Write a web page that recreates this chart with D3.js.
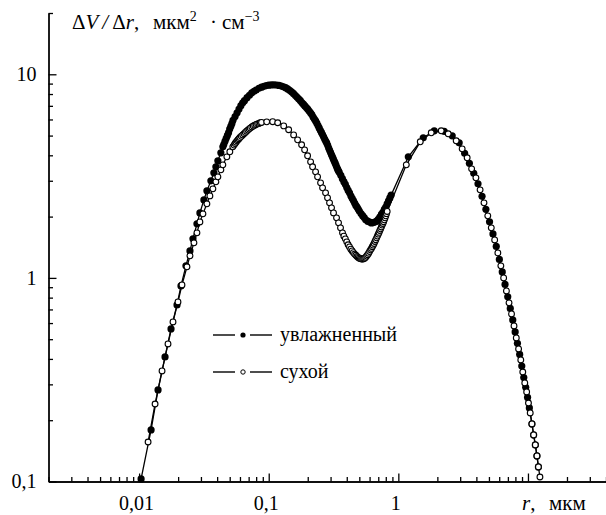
<!DOCTYPE html>
<html>
  <head>
    <meta charset="utf-8">
    <script src="https://cdn.jsdelivr.net/npm/d3@7"></script>
  </head>
  <body style="margin:0">
    <svg width="606" height="515" id="mainsvg"></svg>
    <script>
      // humid aerosol (filled markers): radius, um and dV/dr
      const humidR = [
        0.01036, 0.01237, 0.01400, 0.01585, 0.01763, 0.01961, 0.02104, 0.02298, 0.02468, 0.02603,
        0.02794, 0.02945, 0.03162, 0.03335, 0.03580, 0.03775, 0.03912, 0.04052, 0.04274, 0.04427,
        0.045, 0.046, 0.047, 0.048, 0.049, 0.050, 0.051, 0.052, 0.053, 0.055,
        0.057, 0.059, 0.061, 0.063, 0.065, 0.068, 0.071, 0.074, 0.077, 0.080,
        0.084, 0.088, 0.092, 0.096, 0.100, 0.105, 0.110, 0.115, 0.120, 0.125,
        0.130, 0.135, 0.140, 0.145, 0.150, 0.155, 0.160, 0.165, 0.170, 0.175,
        0.180, 0.185, 0.190, 0.195, 0.200, 0.205, 0.210, 0.215, 0.220, 0.225,
        0.230, 0.235, 0.240, 0.245, 0.250, 0.255, 0.260, 0.265, 0.270, 0.275,
        0.280, 0.285, 0.290, 0.295, 0.300, 0.305, 0.310, 0.315, 0.320, 0.325,
        0.330, 0.335, 0.340, 0.345, 0.350, 0.360, 0.370, 0.380, 0.390, 0.400,
        0.410, 0.420, 0.430, 0.440, 0.450, 0.460, 0.470, 0.480, 0.490, 0.500,
        0.515, 0.530, 0.545, 0.560, 0.580, 0.600, 0.620, 0.640, 0.660, 0.680,
        0.700, 0.720, 0.740, 0.760, 0.780, 0.800, 0.820, 0.840, 0.860, 0.880,
        1.194, 1.557, 1.892, 2.259, 2.603, 2.946, 3.247, 3.533, 3.819, 4.117,
        4.423, 4.736, 5.053, 5.371, 5.694, 6.016, 6.333, 6.655, 6.982, 7.304,
        7.634, 7.965, 8.295, 8.633, 8.960, 9.283, 9.609, 9.930, 10.25, 10.73,
        11.06, 11.40, 11.73, 12.04
      ];
      const humidV = [
        0.1029, 0.1791, 0.2816, 0.4090, 0.5615, 0.7369, 0.9135, 1.146, 1.357, 1.555,
        1.843, 2.086, 2.416, 2.676, 2.997, 3.281, 3.512, 3.758, 4.115, 4.403,
        4.52, 4.69, 4.85, 5.01, 5.17, 5.38, 5.55, 5.73, 5.94, 6.20,
        6.47, 6.75, 7.01, 7.24, 7.42, 7.68, 7.89, 8.11, 8.25, 8.37,
        8.54, 8.64, 8.73, 8.80, 8.84, 8.87, 8.88, 8.86, 8.82, 8.75,
        8.68, 8.60, 8.47, 8.34, 8.20, 8.05, 7.88, 7.73, 7.58, 7.44,
        7.26, 7.13, 6.99, 6.87, 6.74, 6.60, 6.47, 6.34, 6.17, 6.03,
        5.90, 5.75, 5.60, 5.45, 5.31, 5.18, 5.06, 4.93, 4.81, 4.70,
        4.60, 4.48, 4.34, 4.23, 4.13, 4.02, 3.93, 3.84, 3.75, 3.67,
        3.58, 3.49, 3.42, 3.36, 3.30, 3.19, 3.07, 2.97, 2.88, 2.78,
        2.69, 2.62, 2.53, 2.46, 2.40, 2.33, 2.27, 2.23, 2.18, 2.13,
        2.07, 2.02, 1.98, 1.93, 1.90, 1.88, 1.86, 1.87, 1.88, 1.90,
        1.94, 1.99, 2.05, 2.10, 2.17, 2.23, 2.31, 2.39, 2.47, 2.55,
        3.932, 4.875, 5.277, 5.247, 4.986, 4.607, 4.091, 3.653, 3.262, 2.897,
        2.515, 2.171, 1.885, 1.645, 1.428, 1.233, 1.070, 0.929, 0.807, 0.708,
        0.622, 0.543, 0.477, 0.421, 0.369, 0.324, 0.290, 0.2587, 0.2297, 0.1917,
        0.1693, 0.1512, 0.1335, 0.1179
      ];

      // dry aerosol (open markers)
      const dryR = [
        0.01173, 0.01328, 0.01503, 0.01671, 0.01826, 0.01995, 0.02142, 0.02340, 0.02468, 0.02649,
        0.02794, 0.02945, 0.03108, 0.03335, 0.03517, 0.03709, 0.03912, 0.04052, 0.04274, 0.04427,
        0.04753, 0.05012, 0.05284,
        0.054, 0.055, 0.056, 0.057, 0.058, 0.059, 0.060, 0.0615, 0.063, 0.0645,
        0.066, 0.0675, 0.069, 0.0705, 0.072, 0.074, 0.076, 0.078, 0.080, 0.082,
        0.084, 0.086, 0.088,
        0.0965, 0.1073, 0.1173, 0.1305, 0.1425, 0.1557, 0.1671, 0.1794, 0.1892, 0.1995,
        0.2104, 0.2180, 0.2299, 0.2382, 0.2512, 0.2603, 0.2745, 0.2843, 0.2946, 0.3052,
        0.3162, 0.3336, 0.3456, 0.3580, 0.3709,
        0.38, 0.39, 0.40, 0.41, 0.42, 0.43, 0.44, 0.45, 0.46, 0.47,
        0.48, 0.49, 0.50, 0.51, 0.52, 0.53, 0.54, 0.55, 0.56, 0.57,
        0.58, 0.59, 0.60, 0.61, 0.62, 0.63, 0.64, 0.65, 0.66, 0.67,
        0.68, 0.69, 0.70, 0.71, 0.72, 0.73, 0.74, 0.75, 0.76, 0.77,
        0.78, 0.79, 0.80, 0.81, 0.82,
        1.152, 1.476, 1.794, 2.142, 2.424, 2.794, 3.107, 3.395, 3.676, 3.967,
        4.273, 4.579, 4.898, 5.212, 5.535, 5.858, 6.178, 6.492, 6.823, 7.144,
        7.467, 7.805, 8.128, 8.466, 8.803, 9.120, 9.449, 9.772, 10.09, 10.41,
        10.73, 11.06, 11.40, 11.73, 12.04, 12.37
      ];
      const dryV = [
        0.1563, 0.2403, 0.3491, 0.4739, 0.6077, 0.7622, 0.9239, 1.133, 1.283, 1.486,
        1.664, 1.884, 2.063, 2.310, 2.528, 2.737, 2.963, 3.135, 3.394, 3.592,
        3.932, 4.161, 4.403,
        4.49, 4.57, 4.64, 4.71, 4.77, 4.83, 4.89, 4.96, 5.04, 5.11,
        5.18, 5.25, 5.32, 5.38, 5.44, 5.51, 5.57, 5.62, 5.67, 5.71,
        5.74, 5.78, 5.80,
        5.84, 5.85, 5.78, 5.58, 5.34, 5.04, 4.765, 4.504, 4.256, 3.977,
        3.716, 3.512, 3.318, 3.135, 2.930, 2.769, 2.617, 2.473, 2.336, 2.208,
        2.086, 1.972, 1.864, 1.761, 1.664,
        1.603, 1.555, 1.503, 1.454, 1.420, 1.384, 1.356, 1.331, 1.309, 1.291,
        1.274, 1.261, 1.250, 1.243, 1.239, 1.237, 1.241, 1.250, 1.262, 1.280,
        1.299, 1.322, 1.348, 1.373, 1.396, 1.423, 1.448, 1.476, 1.509, 1.539,
        1.573, 1.605, 1.640, 1.673, 1.710, 1.741, 1.779, 1.817, 1.851, 1.887,
        1.928, 1.972, 2.017, 2.068, 2.120,
        3.592, 4.660, 5.159, 5.277, 5.101, 4.713, 4.304, 3.888, 3.432, 3.100,
        2.707, 2.336, 2.017, 1.761, 1.537, 1.327, 1.146, 1.000, 0.863, 0.754,
        0.665, 0.581, 0.507, 0.448, 0.3955, 0.345, 0.305, 0.2754, 0.243, 0.2171,
        0.1917, 0.1693, 0.1512, 0.1335, 0.1179, 0.1052
      ];

      const xDomain = [0.002, 40];
      const yDomain = [0.1, 20];
      const xMajorTicks = [0.01, 0.1, 1, 10];
      const xTickLabels = ['0,01', '0,1', '1', ''];
      const yMajorTicks = [0.1, 1, 10];
      const yTickLabels = ['0,1', '1', '10'];
      const legendLabels = ['увлажненный', 'сухой'];

      const svg = d3.select('#mainsvg');
      const width = +svg.attr('width');
      const height = +svg.attr('height');
      const margin = {top: 13, right: 0, bottom: 33.5, left: 48.5};
      const fontSize = 20;
      const serif = '"Liberation Serif"';

      const xScale = d3.scaleLog()
        .domain(xDomain)
        .range([margin.left, width - margin.right]);
      const yScale = d3.scaleLog()
        .domain(yDomain)
        .range([height - margin.bottom, margin.top]);

      const isPow10 = d => Math.abs(Math.log10(d) - Math.round(Math.log10(d))) < 1e-9;

      // axes: ticks point inward
      const styleAxis = g => {
        g.attr('font-size', fontSize).attr('font-family', 'Liberation Serif').style('color', '#000');
        g.selectAll('text').style('font-family', serif);
        g.selectAll('path, line').attr('stroke-width', 1.3);
      };

      const xAxisY = height - margin.bottom;
      svg.append('g')
        .attr('transform', `translate(0, ${xAxisY})`)
        .call(d3.axisBottom(xScale)
          .tickValues(xScale.ticks().filter(d => !isPow10(d)))
          .tickSize(-4.5).tickSizeOuter(0).tickFormat(''))
        .call(styleAxis);
      svg.append('g')
        .attr('transform', `translate(0, ${xAxisY})`)
        .call(d3.axisBottom(xScale)
          .tickValues(xMajorTicks)
          .tickSize(-8).tickSizeOuter(0).tickPadding(14)
          .tickFormat((d, i) => xTickLabels[i]))
        .call(styleAxis)
        .call(g => g.selectAll('text').attr('dx', -3));

      svg.append('g')
        .attr('transform', `translate(${margin.left}, 0)`)
        .call(d3.axisLeft(yScale)
          .tickValues(yScale.ticks().filter(d => !isPow10(d)))
          .tickSize(-4.5).tickSizeOuter(0).tickFormat(''))
        .call(styleAxis);
      svg.append('g')
        .attr('transform', `translate(${margin.left}, 0)`)
        .call(d3.axisLeft(yScale)
          .tickValues(yMajorTicks)
          .tickSize(-8).tickSizeOuter(0).tickPadding(12)
          .tickFormat((d, i) => yTickLabels[i]))
        .call(styleAxis);

      // curves
      const humid = humidR.map((r, i) => ({r: r, v: humidV[i]}));
      const dry = dryR.map((r, i) => ({r: r, v: dryV[i]}));
      const line = d3.line().x(d => xScale(d.r)).y(d => yScale(d.v));

      const plot = svg.append('g');
      plot.append('path').datum(humid)
        .attr('d', line).attr('fill', 'none').attr('stroke', '#000').attr('stroke-width', 1.3);
      plot.append('g').selectAll('circle').data(humid).join('circle')
        .attr('cx', d => xScale(d.r)).attr('cy', d => yScale(d.v))
        .attr('r', 3.6).attr('fill', '#000');
      plot.append('path').datum(dry)
        .attr('d', line).attr('fill', 'none').attr('stroke', '#000').attr('stroke-width', 1.3);
      plot.append('g').selectAll('circle').data(dry).join('circle')
        .attr('cx', d => xScale(d.r)).attr('cy', d => yScale(d.v))
        .attr('r', 2.9).attr('fill', '#fff').attr('stroke', '#000').attr('stroke-width', 1.1);

      // y-axis title: ΔV/Δr, мкм² · см⁻³
      const yTitle = svg.append('text').attr('x', 72).attr('y', 29)
        .attr('font-size', 21).attr('font-family', 'Liberation Serif').style('font-family', serif);
      yTitle.append('tspan').text('Δ');
      yTitle.append('tspan').attr('font-style', 'italic').text('V');
      yTitle.append('tspan').attr('dx', 4).attr('font-style', 'italic').text('/');
      yTitle.append('tspan').attr('dx', 4).text('Δ');
      yTitle.append('tspan').attr('font-style', 'italic').text('r');
      yTitle.append('tspan').text(',');
      yTitle.append('tspan').attr('x', 153).text('мкм');
      yTitle.append('tspan').attr('dy', -8).attr('font-size', 14).text('2');
      yTitle.append('tspan').attr('x', 210).attr('dy', 8).text('·');
      yTitle.append('tspan').attr('x', 222).text('см');
      yTitle.append('tspan').attr('dy', -8).attr('font-size', 14).text('−3');

      // x-axis title: r, мкм
      const xTitle = svg.append('text').attr('x', 522).attr('y', 510)
        .attr('font-size', 21).attr('font-family', 'Liberation Serif').style('font-family', serif);
      xTitle.append('tspan').attr('font-style', 'italic').text('r');
      xTitle.append('tspan').text(',');
      xTitle.append('tspan').attr('x', 549).text('мкм');

      // legend
      const legend = svg.append('g').attr('transform', 'translate(213, 335)');
      const rows = legend.selectAll('g').data(legendLabels).join('g')
        .attr('transform', (d, i) => `translate(0, ${i * 37})`);
      rows.append('line').attr('x1', 0).attr('x2', 22).attr('stroke', '#000').attr('stroke-width', 1.4);
      rows.append('line').attr('x1', 37).attr('x2', 59).attr('stroke', '#000').attr('stroke-width', 1.4);
      rows.append('circle').attr('cx', 30).attr('cy', 0)
        .attr('r', (d, i) => i === 0 ? 2.6 : 2.2)
        .attr('fill', (d, i) => i === 0 ? '#000' : '#fff')
        .attr('stroke', '#000').attr('stroke-width', (d, i) => i === 0 ? 0 : 1);
      rows.append('text').attr('x', 67).attr('y', 6)
        .attr('font-size', fontSize).attr('font-family', 'Liberation Serif')
        .style('font-family', serif).text(d => d);
    </script>
  </body>
</html>
